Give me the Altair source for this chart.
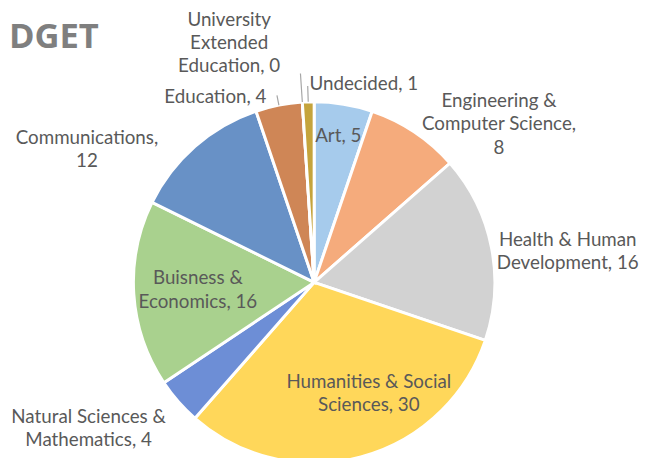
import altair as alt
import pandas as pd

# ---- data ----
categories = [
    "Art",
    "Engineering & Computer Science",
    "Health & Human Development",
    "Humanities & Social Sciences",
    "Natural Sciences & Mathematics",
    "Buisness & Economics",
    "Communications",
    "Education",
    "University Extended Education",
    "Undecided",
]
values = [5, 8, 16, 30, 4, 16, 12, 4, 0, 1]
labels = [
    "Art, 5",
    "Engineering &\nComputer Science,\n8",
    "Health & Human\nDevelopment, 16",
    "Humanities & Social\nSciences, 30",
    "Natural Sciences &\nMathematics, 4",
    "Buisness &\nEconomics, 16",
    "Communications,\n12",
    "Education, 4",
    "University\nExtended\nEducation, 0",
    "Undecided, 1",
]
colors = [
    "#A6CBEC", "#F5AB7C", "#D2D2D2", "#FFD75A", "#6D8ED6",
    "#A9D18E", "#6891C6", "#CF8656", "#8C8C8C", "#C5A43C",
]
title_text = "BUDGET"

total = sum(values)
start = []
acc = 0
for v in values:
    start.append(acc)
    acc += v
df = pd.DataFrame({
    "category": categories,
    "value": values,
    "order": list(range(len(values))),
    "start": start,
    "label": labels,
})
df["mid"] = df["start"] + df["value"] / 2

# ---- layout / style ----
CX, CY = 310, 275
R = 183
FONT = "Lato"
LH = 23.5
theta_scale = alt.Scale(domain=[0, total], range=[0, 6.283185307179586])

base = alt.Chart(df)

pie = base.mark_arc(radius=R, stroke="white", strokeWidth=3).encode(
    theta=alt.Theta("value:Q", stack=True, scale=theta_scale),
    order=alt.Order("order:Q"),
    color=alt.Color("category:N", scale=alt.Scale(domain=categories, range=colors), legend=None),
    x=alt.value(CX),
    y=alt.value(CY),
)

# label placement style: (radius, dx, dy of the block centre)
label_style = {
    "Art": (150, 0, 0),
    "Engineering & Computer Science": (220, 65, 23),
    "Health & Human Development": (220, 41, 12),
    "Humanities & Social Sciences": (125, 23, -8),
    "Natural Sciences & Mathematics": (220, -63, 3),
    "Buisness & Economics": (120, 2, 0),
    "Communications": (220, -85, 31),
    "Education": (205, -60, 13),
    "University Extended Education": (230, -71, -13),
    "Undecided": (205, 57, 4),
}

layers = [pie]

# leader lines (radial segments at the slice mid-angle)
leader_style = {
    "Education": (R, 193),
    "University Extended Education": (R, 212),
    "Undecided": (R, 199),
}
for cat, (r_in, r_out) in leader_style.items():
    layers.append(
        base.transform_filter(alt.datum.category == cat)
        .mark_arc(radius=r_out, radius2=r_in, filled=False, stroke="#A6A6A6", strokeWidth=1.2)
        .encode(
            theta=alt.Theta("mid:Q", scale=theta_scale),
            theta2="mid:Q",
            x=alt.value(CX),
            y=alt.value(CY),
        )
    )

for cat, (rad, dx, dy) in label_style.items():
    n_lines = labels[categories.index(cat)].count("\n") + 1
    layers.append(
        base.transform_filter(alt.datum.category == cat)
        .mark_text(
            radius=rad, dx=dx, dy=dy - (n_lines - 1) * LH / 2, align="center", baseline="middle",
            font=FONT, fontSize=19, color="#595959", lineBreak="\n", lineHeight=LH,
        )
        .encode(
            theta=alt.Theta("mid:Q", scale=theta_scale),
            text="label:N",
            x=alt.value(CX),
            y=alt.value(CY),
        )
    )

title = alt.Chart(pd.DataFrame({"t": [title_text]})).mark_text(
    align="left", baseline="alphabetic", font="Open Sans", fontSize=35,
    fontWeight="bold", color="#7F7F7F",
).encode(text="t:N", x=alt.value(-49), y=alt.value(38))
layers.append(title)

chart = alt.layer(*layers).properties(
    width=643, height=450, padding=0, autosize=alt.AutoSizeParams(type="none"),
    background="white",
).configure_view(stroke=None)

chart.save("out.html", embed_options={"renderer": "svg", "actions": False})
